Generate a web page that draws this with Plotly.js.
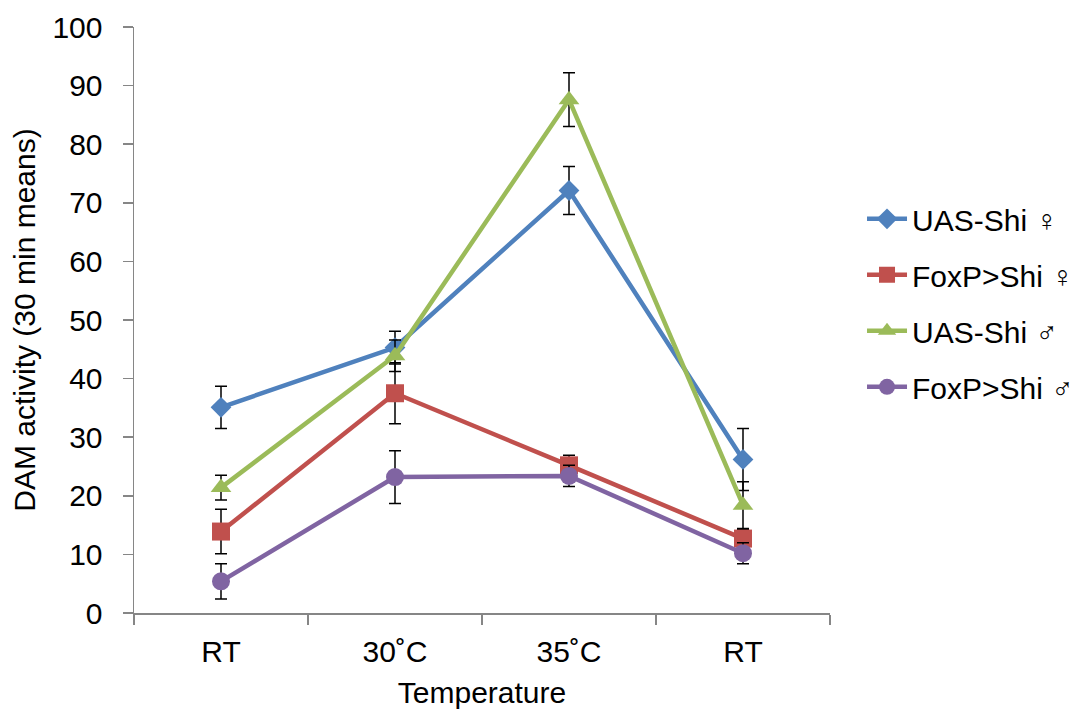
<!DOCTYPE html>
<html><head><meta charset="utf-8">
<script src="https://cdn.plot.ly/plotly-3.0.1.min.js"></script>
<style>body{margin:0;background:#fff}#c{width:1086px;height:713px}</style>
</head><body><div id="c"></div>
<script>
const categories = ["RT", "30˚C", "35˚C", "RT"];
const seriesNames = ["UAS-Shi ♀", "FoxP>Shi ♀", "UAS-Shi ♂", "FoxP>Shi ♂"];
const uasFemale = [35.1, 45.3, 72.1, 26.2];
const uasFemaleErr = [3.6, 2.8, 4.1, 5.3];
const foxpFemale = [13.9, 37.5, 25.2, 12.7];
const foxpFemaleErr = [3.8, 5.2, 1.7, 1.5];
const uasMale = [21.4, 43.9, 87.6, 18.4];
const uasMaleErr = [2.1, 2.7, 4.6, 4.0];
const foxpMale = [5.4, 23.2, 23.4, 10.2];
const foxpMaleErr = [3.0, 4.5, 1.8, 1.8];
const yTicks = [0,10,20,30,40,50,60,70,80,90,100];

const colors = ["#4F81BD", "#C0504D", "#9BBB59", "#8064A2"];
const symbols = ["diamond", "square", "triangle-up", "circle"];
const sizes = [16, 18, 18, 18];
const vals = [uasFemale, foxpFemale, uasMale, foxpMale];
const errs = [uasFemaleErr, foxpFemaleErr, uasMaleErr, foxpMaleErr];
const xIdx = categories.map((c, i) => i);

const traces = vals.map((v, k) => ({
  x: xIdx, y: v, name: seriesNames[k], type: "scatter", mode: "lines+markers",
  legendgroup: "g" + k,
  line: {color: colors[k], width: 4.5},
  marker: {symbol: symbols[k], size: sizes[k], color: colors[k]},
  error_y: {type: "data", array: errs[k], visible: true, color: "#000", thickness: 1.5, width: 6}
}));

const layout = {
  width: 1086, height: 713,
  margin: {l: 134, r: 256, t: 27, b: 100, autoexpand: false},
  paper_bgcolor: "#fff", plot_bgcolor: "#fff",
  font: {family: "Liberation Sans, Arial, sans-serif", size: 30, color: "#000"},
  showlegend: true,
  legend: {x: 1.046, y: 0.717, xanchor: "left", yanchor: "top", tracegroupgap: 14,
           itemwidth: 40, font: {size: 30}, bgcolor: "rgba(0,0,0,0)"},
  xaxis: {
    range: [-0.5, 3.5], tickmode: "array", tickvals: xIdx, ticktext: categories,
    ticks: "", showgrid: false, zeroline: false, showline: true, automargin: false,
    linecolor: "#868686", linewidth: 1.5, tickfont: {size: 30}, ticklabelstandoff: 11,
    minor: {tickvals: [-0.5, 0.5, 1.5, 2.5, 3.5], ticks: "outside", ticklen: 10, tickcolor: "#868686", tickwidth: 1.5, showgrid: false},
    title: {text: "Temperature", font: {size: 30}, standoff: 15}
  },
  yaxis: {
    range: [0, 100], tickmode: "array", tickvals: yTicks, automargin: false,
    ticks: "outside", ticklen: 10, tickcolor: "#868686", tickwidth: 1.5,
    showgrid: false, zeroline: false, showline: true, ticklabelstandoff: 14,
    linecolor: "#868686", linewidth: 1.5, tickfont: {size: 30},
    title: {text: "DAM activity (30 min means)", font: {size: 30}, standoff: 8}
  }
};
Plotly.newPlot("c", traces, layout, {displayModeBar: false, staticPlot: true});
</script></body></html>
